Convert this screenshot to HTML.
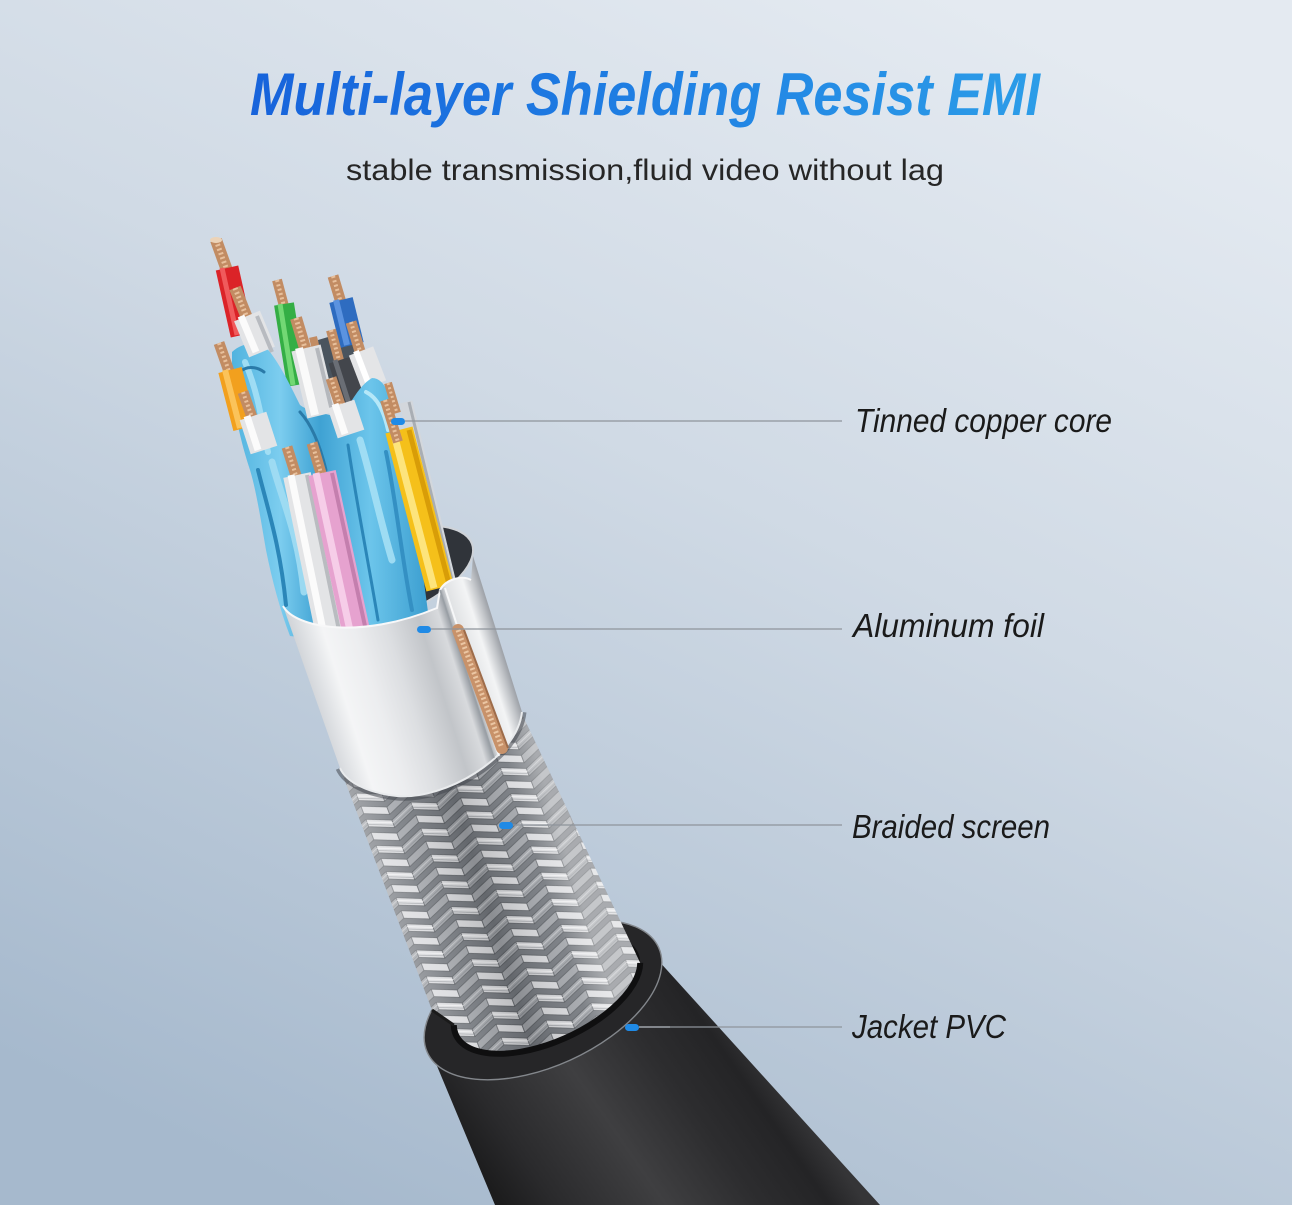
<!DOCTYPE html>
<html>
<head>
<meta charset="utf-8">
<style>
html,body{margin:0;padding:0;background:#c9d5e1;}
svg{display:block;}
</style>
</head>
<body>
<svg width="1292" height="1205" viewBox="0 0 1292 1205" xmlns="http://www.w3.org/2000/svg">
<defs>
  <linearGradient id="bg" x1="0.75" y1="0" x2="0.25" y2="1">
    <stop offset="0" stop-color="#e4eaf1"/>
    <stop offset="0.4" stop-color="#d0dae5"/>
    <stop offset="1" stop-color="#a6b9cd"/>
  </linearGradient>
  <linearGradient id="tg" gradientUnits="userSpaceOnUse" x1="250" y1="0" x2="1040" y2="0">
    <stop offset="0" stop-color="#1763db"/>
    <stop offset="0.5" stop-color="#1f7fe3"/>
    <stop offset="1" stop-color="#2c9de8"/>
  </linearGradient>
  <pattern id="br" width="48" height="28" patternUnits="userSpaceOnUse" patternTransform="rotate(-21)">
    <rect width="48" height="28" fill="#74787e"/>
    <g fill="#d9dadd" stroke="#55595e" stroke-width="0.7">
      <polygon points="0,-14 24,-4 24,4 0,-6"/>
      <polygon points="0,0 24,10 24,18 0,8"/>
      <polygon points="0,14 24,24 24,32 0,22"/>
    </g>
    <g fill="#a2a5aa" stroke="#55595e" stroke-width="0.7">
      <polygon points="24,-4 48,-14 48,-6 24,4"/>
      <polygon points="24,10 48,0 48,8 24,18"/>
      <polygon points="24,24 48,14 48,22 24,32"/>
    </g>
    <line x1="0" y1="3" x2="24" y2="13" stroke="#f4f4f5" stroke-width="0.8"/>
    <line x1="24" y1="13" x2="48" y2="3" stroke="#c9cbce" stroke-width="0.8"/>
    <line x1="0" y1="5.5" x2="24" y2="15.5" stroke="#8c9095" stroke-width="0.6"/>
    <line x1="24" y1="15.5" x2="48" y2="5.5" stroke="#7f8388" stroke-width="0.6"/>
  </pattern>
  <linearGradient id="brs" gradientUnits="userSpaceOnUse" x1="340" y1="800" x2="531" y2="740">
    <stop offset="0" stop-color="#ffffff" stop-opacity="0.4"/>
    <stop offset="0.25" stop-color="#ffffff" stop-opacity="0.12"/>
    <stop offset="0.55" stop-color="#000000" stop-opacity="0.14"/>
    <stop offset="0.85" stop-color="#ffffff" stop-opacity="0.08"/>
    <stop offset="1" stop-color="#ffffff" stop-opacity="0.38"/>
  </linearGradient>
  <linearGradient id="foil" gradientUnits="userSpaceOnUse" x1="283" y1="640" x2="479" y2="578">
    <stop offset="0" stop-color="#aeb2b8"/>
    <stop offset="0.06" stop-color="#d3d6da"/>
    <stop offset="0.2" stop-color="#f4f5f6"/>
    <stop offset="0.35" stop-color="#ecedef"/>
    <stop offset="0.5" stop-color="#dcdee1"/>
    <stop offset="0.66" stop-color="#c2c5c9"/>
    <stop offset="0.76" stop-color="#d8dadd"/>
    <stop offset="0.8" stop-color="#9ea3a9"/>
    <stop offset="0.83" stop-color="#e0e2e4"/>
    <stop offset="0.92" stop-color="#f3f4f5"/>
    <stop offset="0.97" stop-color="#c1c4c8"/>
    <stop offset="1" stop-color="#a0a4aa"/>
  </linearGradient>
  <linearGradient id="jk" gradientUnits="userSpaceOnUse" x1="450" y1="1130" x2="696" y2="959">
    <stop offset="0" stop-color="#1c1c1d"/>
    <stop offset="0.15" stop-color="#2a2a2c"/>
    <stop offset="0.45" stop-color="#3f3f41"/>
    <stop offset="0.7" stop-color="#2d2d2f"/>
    <stop offset="0.9" stop-color="#242426"/>
    <stop offset="1" stop-color="#353537"/>
  </linearGradient>
  <linearGradient id="blue" gradientUnits="userSpaceOnUse" x1="230" y1="0" x2="430" y2="0">
    <stop offset="0" stop-color="#4fb2de"/>
    <stop offset="0.25" stop-color="#7ccdef"/>
    <stop offset="0.45" stop-color="#3fa2d3"/>
    <stop offset="0.7" stop-color="#6cc5eb"/>
    <stop offset="1" stop-color="#3a9dcf"/>
  </linearGradient>
</defs>

<!-- background -->
<rect width="1292" height="1205" fill="url(#bg)"/>

<!-- title -->
<text x="250" y="115" font-family="'Liberation Sans', sans-serif" font-weight="bold" font-style="italic" font-size="60" fill="url(#tg)" textLength="790" lengthAdjust="spacingAndGlyphs">Multi-layer Shielding Resist EMI</text>
<text x="346" y="180" font-family="'Liberation Sans', sans-serif" font-size="30" fill="#262626" textLength="598" lengthAdjust="spacingAndGlyphs">stable transmission,fluid video without lag</text>

<!-- ===== Jacket ===== -->
<path d="M424.5,1036 L495,1205 L880,1205 L661.5,964 L543,1000 Z" fill="url(#jk)"/>
<ellipse cx="543" cy="1000" rx="127" ry="66" transform="rotate(-24.4 543 1000)" fill="#262628" stroke="#83878c" stroke-width="1.4"/>
<ellipse cx="547" cy="994" rx="100" ry="48" transform="rotate(-24.4 547 994)" fill="#111112"/>

<!-- ===== Braid ===== -->
<path d="M340,768 L432,1010 L453.8,1025.1 A100 48 -24.4 0 0 640.2,962.9 L521,712 Z" fill="url(#br)"/>
<path d="M340,768 L432,1010 L453.8,1025.1 A100 48 -24.4 0 0 640.2,962.9 L521,712 Z" fill="url(#brs)"/>
<path d="M453.8,1025.1 A100 48 -24.4 0 0 640.2,962.9" fill="none" stroke="#0f0f10" stroke-width="6"/>
<path d="M432,1010 L453.8,1025.1" stroke="#1a1a1a" stroke-width="3"/>
<!-- shadow under foil edge -->
<path d="M522,712 C517,758 445,800 397,796 C368,793 346,782 340,768" fill="none" stroke="#454950" stroke-width="9" opacity="0.55"/>

<!-- ===== Foil interior ===== -->
<ellipse cx="378" cy="578" rx="100" ry="42" transform="rotate(-20 378 578)" fill="#30343a" stroke="#cfd3d8" stroke-width="2"/>

<!-- ===== Back wires ===== -->
<polygon points="318,340 345,332 366,350 368,382 338,392 322,378" fill="#4a545e"/>
<!-- F -->
<line x1="313" y1="337" x2="319" y2="362" stroke="#c28c63" stroke-width="8"/>
<!-- D blue -->
<line x1="333" y1="276" x2="342" y2="306" stroke="#c28c63" stroke-width="11"/>
<line x1="333" y1="276" x2="342" y2="306" stroke="#e8c09c" stroke-width="4" stroke-dasharray="2 2.5"/>
<line x1="341" y1="300" x2="352" y2="345" stroke="#2e6cc0" stroke-width="24"/>
<line x1="336" y1="300" x2="347" y2="345" stroke="#5b93e0" stroke-width="6"/>
<!-- C green -->
<line x1="277" y1="280" x2="285" y2="310" stroke="#c28c63" stroke-width="10"/>
<line x1="277" y1="280" x2="285" y2="310" stroke="#e8c09c" stroke-width="4" stroke-dasharray="2 2.5"/>
<line x1="284" y1="304" x2="297" y2="385" stroke="#34ae45" stroke-width="20"/>
<line x1="280" y1="304" x2="293" y2="385" stroke="#72d874" stroke-width="5"/>
<!-- A red -->
<line x1="216" y1="240" x2="229" y2="276" stroke="#c28c63" stroke-width="12"/>
<line x1="216" y1="240" x2="229" y2="276" stroke="#e8c09c" stroke-width="5" stroke-dasharray="2 2.5"/>
<ellipse cx="216" cy="240" rx="6" ry="3" fill="#ecd3b8"/>
<line x1="227" y1="268" x2="242" y2="335" stroke="#db2328" stroke-width="23"/>
<line x1="222" y1="268" x2="237" y2="335" stroke="#f05a5c" stroke-width="5"/>
<!-- G dark -->
<line x1="331" y1="330" x2="341" y2="368" stroke="#c28c63" stroke-width="10"/>
<line x1="331" y1="330" x2="341" y2="368" stroke="#e8c09c" stroke-width="4" stroke-dasharray="2 2.5"/>
<line x1="340" y1="360" x2="356" y2="410" stroke="#43464c" stroke-width="24"/>
<line x1="335" y1="360" x2="351" y2="410" stroke="#6a6e75" stroke-width="5"/>
<!-- H white -->
<line x1="351" y1="322" x2="362" y2="358" stroke="#c28c63" stroke-width="11"/>
<line x1="351" y1="322" x2="362" y2="358" stroke="#e8c09c" stroke-width="4" stroke-dasharray="2 2.5"/>
<line x1="361" y1="351" x2="374" y2="385" stroke="#e4e5e7" stroke-width="26"/>
<line x1="356" y1="351" x2="369" y2="385" stroke="#ffffff" stroke-width="6"/>

<!-- ===== Blue shield mass ===== -->
<path d="M232,352 C245,340 262,342 270,352 C282,368 290,385 300,405 C312,414 330,412 340,420 C352,400 360,385 372,378 C386,378 392,400 398,430 L412,500 C418,540 424,580 428,612 L420,628 C380,636 320,640 290,636 C280,610 272,580 266,550 C260,515 256,490 250,470 C240,440 234,410 232,385 Z" fill="url(#blue)"/>
<g fill="none" stroke-linecap="round">
  <path d="M245,362 C258,392 262,422 268,452" stroke="#a9e2f6" stroke-width="6" opacity="0.85"/>
  <path d="M258,470 C268,510 280,545 286,605" stroke="#2b86b8" stroke-width="4"/>
  <path d="M272,462 C282,500 298,532 304,592" stroke="#a2ddf3" stroke-width="7" opacity="0.9"/>
  <path d="M360,440 C372,480 380,520 392,560" stroke="#a9e2f6" stroke-width="7" opacity="0.85"/>
  <path d="M348,445 C356,500 368,560 378,620" stroke="#2b86b8" stroke-width="3"/>
  <path d="M386,452 C396,500 402,560 412,610" stroke="#3490c3" stroke-width="4"/>
  <path d="M300,412 C312,425 320,445 326,470" stroke="#2a7aa8" stroke-width="3"/>
  <path d="M240,372 C246,366 256,366 264,372" stroke="#2a7aa8" stroke-width="3"/>
  <path d="M366,392 C378,398 384,412 388,430" stroke="#b5e7f8" stroke-width="4"/>
</g>

<!-- ===== Front wires ===== -->
<!-- B white -->
<line x1="235" y1="288" x2="249" y2="323" stroke="#c28c63" stroke-width="12"/>
<line x1="235" y1="288" x2="249" y2="323" stroke="#e8c09c" stroke-width="5" stroke-dasharray="2 2.5"/>
<line x1="247" y1="316" x2="262" y2="352" stroke="#e3e4e6" stroke-width="28"/>
<line x1="241" y1="316" x2="256" y2="352" stroke="#fbfbfb" stroke-width="7"/>
<line x1="257" y1="316" x2="272" y2="352" stroke="#b8bbc0" stroke-width="4"/>
<!-- E white -->
<line x1="296" y1="318" x2="307" y2="355" stroke="#c28c63" stroke-width="12"/>
<line x1="296" y1="318" x2="307" y2="355" stroke="#e8c09c" stroke-width="5" stroke-dasharray="2 2.5"/>
<line x1="306" y1="348" x2="322" y2="415" stroke="#e1e2e4" stroke-width="30"/>
<line x1="299" y1="348" x2="315" y2="415" stroke="#fafafa" stroke-width="8"/>
<line x1="317" y1="348" x2="333" y2="415" stroke="#b5b8bd" stroke-width="4"/>
<!-- I orange -->
<line x1="219" y1="343" x2="231" y2="377" stroke="#c28c63" stroke-width="11"/>
<line x1="219" y1="343" x2="231" y2="377" stroke="#e8c09c" stroke-width="4" stroke-dasharray="2 2.5"/>
<line x1="230" y1="370" x2="245" y2="428" stroke="#f2a01e" stroke-width="24"/>
<line x1="225" y1="370" x2="240" y2="428" stroke="#fbc35a" stroke-width="6"/>
<!-- J white -->
<line x1="243" y1="392" x2="254" y2="423" stroke="#c28c63" stroke-width="11"/>
<line x1="243" y1="392" x2="254" y2="423" stroke="#e8c09c" stroke-width="4" stroke-dasharray="2 2.5"/>
<line x1="253" y1="416" x2="264" y2="450" stroke="#e3e4e6" stroke-width="28"/>
<line x1="247" y1="416" x2="258" y2="450" stroke="#fbfbfb" stroke-width="7"/>
<!-- K white -->
<line x1="331" y1="378" x2="342" y2="411" stroke="#c28c63" stroke-width="11"/>
<line x1="331" y1="378" x2="342" y2="411" stroke="#e8c09c" stroke-width="4" stroke-dasharray="2 2.5"/>
<line x1="341" y1="404" x2="351" y2="434" stroke="#e3e4e6" stroke-width="28"/>
<line x1="335" y1="404" x2="345" y2="434" stroke="#fbfbfb" stroke-width="7"/>
<!-- thin gray strand -->
<line x1="406" y1="402" x2="452" y2="592" stroke="#d3d7dc" stroke-width="13"/>
<line x1="409" y1="402" x2="455" y2="592" stroke="#a9aeb4" stroke-width="3"/>
<!-- L copper -->
<line x1="388" y1="383" x2="397" y2="413" stroke="#c28c63" stroke-width="8"/>
<line x1="388" y1="383" x2="397" y2="413" stroke="#e8c09c" stroke-width="3" stroke-dasharray="2 2.5"/>
<!-- N yellow -->
<line x1="399" y1="430" x2="440" y2="588" stroke="#f5c01a" stroke-width="28"/>
<line x1="393" y1="430" x2="434" y2="588" stroke="#fde47c" stroke-width="7"/>
<line x1="409" y1="430" x2="450" y2="588" stroke="#d89d08" stroke-width="5"/>
<!-- M copper -->
<line x1="385" y1="400" x2="398" y2="442" stroke="#c28c63" stroke-width="10"/>
<line x1="385" y1="400" x2="398" y2="442" stroke="#e8c09c" stroke-width="4" stroke-dasharray="2 2.5"/>
<!-- O white long -->
<line x1="287" y1="447" x2="298" y2="482" stroke="#c28c63" stroke-width="11"/>
<line x1="287" y1="447" x2="298" y2="482" stroke="#e8c09c" stroke-width="4" stroke-dasharray="2 2.5"/>
<line x1="297" y1="475" x2="331" y2="640" stroke="#e3e4e6" stroke-width="28"/>
<line x1="291" y1="475" x2="325" y2="640" stroke="#fbfbfb" stroke-width="7"/>
<line x1="307" y1="475" x2="341" y2="640" stroke="#b9bcc0" stroke-width="4"/>
<!-- P pink -->
<line x1="312" y1="443" x2="323" y2="480" stroke="#c28c63" stroke-width="11"/>
<line x1="312" y1="443" x2="323" y2="480" stroke="#e8c09c" stroke-width="4" stroke-dasharray="2 2.5"/>
<line x1="322" y1="473" x2="358" y2="640" stroke="#e6a2cf" stroke-width="28"/>
<line x1="316" y1="473" x2="352" y2="640" stroke="#f6cde8" stroke-width="7"/>
<line x1="332" y1="473" x2="368" y2="640" stroke="#c47fae" stroke-width="4"/>

<!-- ===== Foil front ===== -->
<path d="M283,606 C295,628 360,640 437,608 L440,590 C446,579 462,575 471,580 L473,556 L522,712 C517,758 445,800 397,796 C368,793 346,782 340,768 Z" fill="url(#foil)"/>
<path d="M283,606 C295,628 360,640 437,608 L440,590 C446,579 462,575 471,580" fill="none" stroke="#f8f8f9" stroke-width="2"/>
<path d="M522,712 C517,758 445,800 397,796 C368,793 346,782 340,768" fill="none" stroke="#e9ebed" stroke-width="2"/>
<line x1="440" y1="590" x2="494" y2="758" stroke="#9aa0a6" stroke-width="1.6"/>
<line x1="445" y1="588" x2="499" y2="756" stroke="#f6f7f8" stroke-width="2"/>
<!-- drain wire -->
<line x1="458" y1="630" x2="502" y2="748" stroke="#c8926a" stroke-width="12" stroke-linecap="round"/>
<line x1="458" y1="630" x2="502" y2="748" stroke="#ebc6a3" stroke-width="5" stroke-dasharray="2 2.5"/>
<line x1="464" y1="630" x2="508" y2="748" stroke="#9e6c4a" stroke-width="2"/>

<!-- ===== Leaders ===== -->
<g stroke="#8e949b" stroke-width="1.3">
  <line x1="405" y1="421" x2="842" y2="421"/>
  <line x1="431" y1="629" x2="842" y2="629"/>
  <line x1="513" y1="825" x2="842" y2="825"/>
  <line x1="639" y1="1027" x2="842" y2="1027"/>
</g>
<line x1="639" y1="1027" x2="670" y2="1027" stroke="#a9aeb4" stroke-width="1.3"/>
<g fill="#1f8ae6">
  <rect x="391" y="418" width="14" height="7" rx="3.5"/>
  <rect x="417" y="626" width="14" height="7" rx="3.5"/>
  <rect x="499" y="822" width="14" height="7" rx="3.5"/>
  <rect x="625" y="1024" width="14" height="7" rx="3.5"/>
</g>

<!-- ===== Labels ===== -->
<g font-family="'Liberation Sans', sans-serif" font-style="italic" font-size="33" fill="#1a1a1a">
  <text x="855" y="432" textLength="257" lengthAdjust="spacingAndGlyphs">Tinned copper core</text>
  <text x="853" y="637" textLength="191" lengthAdjust="spacingAndGlyphs">Aluminum foil</text>
  <text x="852" y="838" textLength="198" lengthAdjust="spacingAndGlyphs">Braided screen</text>
  <text x="852" y="1038" textLength="154" lengthAdjust="spacingAndGlyphs">Jacket PVC</text>
</g>
</svg>
</body>
</html>
